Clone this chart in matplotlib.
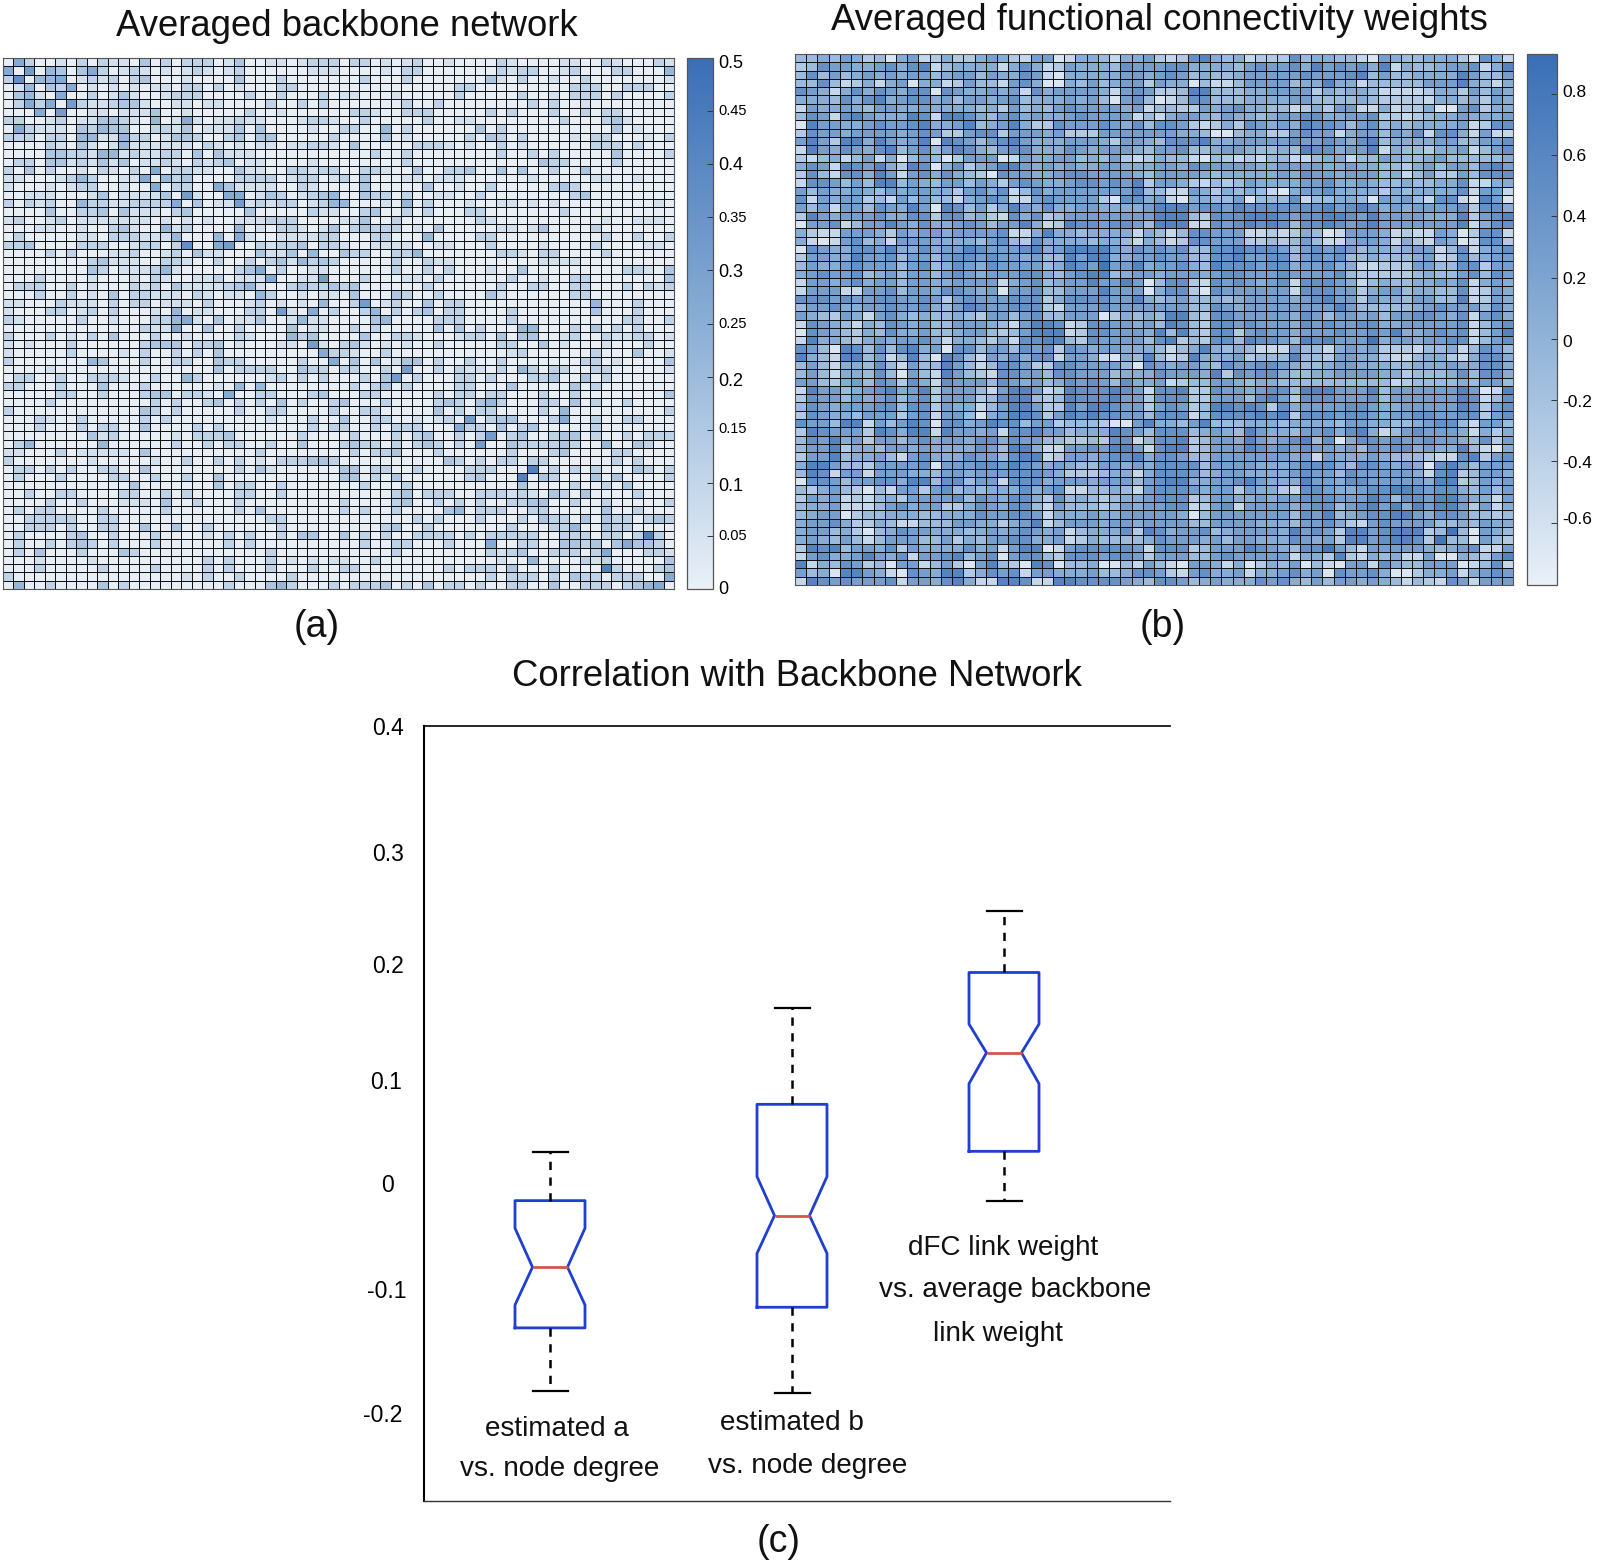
import numpy as np
import matplotlib
matplotlib.use('Agg')
import matplotlib.pyplot as plt
from matplotlib.colors import LinearSegmentedColormap
from matplotlib.transforms import ScaledTranslation

plt.rcParams['font.family'] = ['Liberation Sans', 'DejaVu Sans']

# Panel (a): one digit per cell, value = digit * 0.052
backbone_rows = [
    '05200102 02110302 02220130 01101222 02201012 00100002 10000110 02100021',
    '50604303 52012101 01210120 00000111 00001022 00000002 12200120 00220004',
    '27044501 21202300 01000030 00200000 00200020 00000031 02001002 00000001',
    '01403250 10101011 02202010 00220000 00000000 00022000 00000022 20022200',
    '03410500 20131001 22200002 00200020 11000100 00020000 02001022 20200002',
    '02525062 11233100 11011000 02002020 00000020 02000000 00202001 00000000',
    '00050600 11011130 01000002 00100000 02210022 20000020 20002002 02200000',
    '22001201 13321040 15101121 10001221 00200000 20011000 00000200 02310000',
    '05211103 24330022 13011130 30000100 22004020 00000302 00000000 00301000',
    '22202204 41142201 33200230 33000002 00003010 00002032 02000010 22000102',
    '00002103 10141111 11021010 11011221 03000002 22101002 01000000 22202000',
    '00003322 14412112 20303111 00000000 00020020 00000002 00202000 00300002',
    '02203312 13130112 10212301 10000100 00000020 00000000 00032200 00200000',
    '20302001 02102050 22110031 10022122 00221003 00223003 03002003 00000000',
    '11000124 20011504 23000022 22012201 20300011 01110000 00100000 11001000',
    '10001012 20010050 22005311 11002100 00300000 30010020 00002320 00000000',
    '00111000 13011113 06100550 13201234 00322020 01100200 00000023 00000000',
    '20212004 22112222 50301161 21220124 40001040 20001001 10101000 00000010',
    '00003002 23031110 23000003 00000211 00230020 20002200 00000200 00000000',
    '12001201 11111101 01010011 12220000 11300200 00000210 00000000 01001110',
    '00011001 00231004 12000040 10221013 02322201 03000001 10130000 20000000',
    '02000001 10222111 40004051 00111122 00022000 40000220 00000000 02002002',
    '22300002 22001220 27005600 21223022 10011110 01100020 00010000 20000110',
    '00002020 00112001 20311000 31130400 32200224 00000002 21022000 02000000',
    '00000000 23111002 21002002 02314232 00000200 21100000 00011110 00000000',
    '00000000 32011124 10000023 50200110 00000200 20200010 03000000 00022103',
    '00020000 10001021 00112011 15001160 00200011 02000000 20010022 00000003',
    '02220020 10002120 31111234 10023223 23000000 20000002 00220022 00020212',
    '00020020 10302211 10210110 42001011 03000320 02000031 00000022 00000000',
    '11000211 10202201 11020001 20101040 02601200 30220000 00000000 40002000',
    '10002201 20200010 40110002 20610502 00240202 30220000 20000000 30002000',
    '21000002 00100022 45103011 30014110 00034000 02220000 20000000 00022002',
    '00000000 00000211 50030020 00030110 02020000 03030200 04400020 30202000',
    '20002010 20300020 01000021 00042300 00300221 00012203 03300120 02112201',
    '10100020 00000233 30223010 00110610 23101010 02000002 20030100 01000200',
    '10000020 00010200 20203000 00000052 21002000 00000000 12000000 20003001',
    '20000000 43000200 22003220 00002005 03030133 02002002 00000002 20100003',
    '00001000 00000000 00003022 22003220 22002060 02021102 04202200 22000001',
    '02200200 22210020 04200000 01202020 00203602 00022020 00223003 02000000',
    '22000200 03000200 00001040 40000000 02023020 00022000 30000030 20000000',
    '00000220 02000233 02210500 22000230 00220000 02022022 00020020 00000003',
    '00002000 00000020 20023020 20302002 30002000 02320342 00022030 20020000',
    '20000000 00000320 20000020 02200002 00220000 03020220 00020400 00000002',
    '00021002 00000202 00000000 01000200 30022001 01206023 30002500 20022000',
    '00020002 02200300 00202000 00000202 20020222 00052203 02300000 20000000',
    '00000000 31200000 10222300 00002000 02000202 30020260 23002330 20020222',
    '02400000 04000000 20020220 02003000 23220202 32020600 32222320 04003200',
    '11000201 11110300 00000000 20000000 02022300 02000000 20002300 00220000',
    '20000000 10000010 02002020 10222332 00000000 00320202 20220000 00202000',
    '02202020 02200300 00000020 31000000 33022002 00002220 00802020 20003202',
    '02000200 00220020 02003000 00000000 33020300 00002300 08032000 30300002',
    '00000000 00003000 00003022 00200000 00200020 00000000 03000020 02030000',
    '00200220 00022002 02000022 00200000 00000230 22200222 12103203 00002000',
    '00002002 00011103 00200020 00000000 20000230 02020200 22330020 02000002',
    '02022000 02000002 00000020 30000000 20200200 00340222 00220000 03002000',
    '00222220 02200000 00000000 02200000 00000002 02000200 02032203 03220232',
    '00222020 02200300 30020000 00200000 00002300 20000000 20002240 03220000',
    '02000023 00200020 00010202 00203300 30202002 22202022 22200222 02202820',
    '02002023 20200020 00000202 00000000 00200220 00200050 02200332 30353320',
    '02030002 00032000 00000000 02000000 00000200 00000021 23002220 25000221',
    '00010000 10000000 00020200 02010101 10020000 00000001 00400002 12000003',
    '00020000 02000020 00020200 02000200 22000000 00202220 30002000 08200023',
    '20000000 00000000 01020020 00020000 00000000 00000020 22202032 20222005',
    '04002000 03020000 00000200 03420002 02223020 30220200 22003002 22023450',
]

# Panel (b): one digit per cell, value = -0.66 + digit * 0.185
fc_rows = [
    '3343542304 5124224542 1550144314 4521267434 1222634433 1054334442 0641',
    '2365544564 6713444414 6412544436 5556644443 5655647565 6471433455 6147',
    '3635345454 5534553544 6510444445 5456534334 5555565556 7353344447 5335',
    '3363124145 0441253315 6400435345 5254403113 5555344744 1333335557 4314',
    '6541464654 6606544545 1645555415 6522377333 4455552434 4311112442 5354',
    '4443646745 6645355456 3444545305 6301366333 4444553333 4322221443 4254',
    '1544543554 4544443425 3435655554 5133225456 4433124255 1141224005 6244',
    '3651675444 7617764356 4544565555 1314554354 4345566445 5622123445 4445',
    '0755445655 6744573457 4226555654 6366521242 6545476653 5634344445 1266',
    '2655455554 5652256625 5545222555 5555443003 4422565514 5535461664 1511',
    '5752774754 5707653567 5444555425 5436667445 5555655654 6734444553 3556',
    '1754654673 5635764356 6444654555 4355633455 4334376645 5714332445 1356',
    '2134135140 3530255501 5445534352 1243310321 2133113441 3354334533 3334',
    '4651765742 7604624577 5454544554 4455466555 5445555445 4433245355 3675',
    '2631664751 5646432065 5445665555 4355554344 4445465545 5534135225 3666',
    '1665353773 5435535425 6544566565 7255421323 5444455644 5433433446 1144',
    '5354454354 5544256461 3645555555 7331154243 4310455644 4424344446 1551',
    '6154552315 3533145651 1565555206 6451044335 0333613344 3054531661 0750',
    '5351553654 7507635247 5464455444 4577756657 6666666756 7645455556 2664',
    '2754555644 6626634216 4623555555 5577732666 7776566776 5755554447 2567',
    '0556135575 4644565355 7412766566 5377711656 7676366765 6755555557 1466',
    '4211555425 4554555561 1474434444 1431366555 1121243015 5541211540 2661',
    '4101563415 5544443563 2644443443 1431266555 2232353114 5541421540 1662',
    '0654466574 4645576555 6745777754 6565633667 6665356565 3443455136 1456',
    '2554475563 5535665655 4533757744 5565533667 5566356563 3433345126 3455',
    '3544565553 5634654655 5534765855 7455643766 6566455644 1122255336 6255',
    '4565563453 5535654555 6643567734 5545554566 5556555563 2222234335 6365',
    '1554564553 5544555514 5634557557 5036621656 5456166654 1343344546 1454',
    '1555115563 5546654505 5633555755 5046620655 5555166655 2455344336 1254',
    '6665655665 5652565556 6624666655 7434533434 5555456755 2544355337 1254',
    '3556445565 5643576556 6621555655 5555533654 5555555575 3333345655 5364',
    '5432541564 3433432553 5633555024 3437732665 5555465355 4535566546 1564',
    '1654314365 4533555431 5776126655 4537632665 6555465655 6644555556 1356',
    '0654324364 4533455323 5777126655 5473732662 5655455565 5657445656 1357',
    '1744324545 5641443241 6677326555 5367232663 7665376755 5845545566 1356',
    '6530763636 7450663553 6562654554 4431347434 3111533145 4522213341 3653',
    '7431773513 7307631546 4661554104 3731274445 2333733255 4421134421 4664',
    '3531443631 5337531366 5226655553 0654554365 5665433455 4443344454 4664',
    '3531443630 5317532166 5536655534 4465554726 5664334455 5544233346 3664',
    '5532453652 6416555365 4534656536 4451233554 3443333333 3331233334 3553',
    '1755345674 5725553157 7512766676 5166722655 4566377755 5735555557 5017',
    '2655354563 5625552367 7323766675 5266622555 3675266655 5635555557 6136',
    '3654555663 6625441357 7522757765 5256523776 7626455556 6544555557 6256',
    '2654435552 5615530457 7625767665 5366613666 6767266656 6545566556 6256',
    '6553771535 7606645766 3552333200 5744357333 4443444435 5443345663 1553',
    '2765552764 7717554516 6755344476 5366634543 7544355646 7413565554 1424',
    '3657452553 5645546646 5533223266 1366723554 7545673604 6656556554 3625',
    '3557244355 4544446537 7411556577 5167723555 7656565545 3656645447 3104',
    '2557344531 5644465536 7712554566 7466533555 5555451544 4543332116 7256',
    '4775332555 5605556657 6545433554 5466663555 5444566643 6654540675 3555',
    '3761551555 4435545556 6654222344 1466653455 4444565536 5555541672 3554',
    '0665355664 7736635516 6645554555 3567744556 7544475546 6555554772 3545',
    '3245320315 5256343444 6456113343 1566654552 5442166544 5667765664 3535',
    '2545121342 5555636546 6426343234 4566623554 4545566655 5763665775 4415',
    '3445111356 4552246546 6315333235 4556612561 5555456635 6757475775 2514',
    '3455023344 4334446556 6514445445 5555403555 5555365734 5667754665 3323',
    '4556422431 1333554424 5713555455 4555533555 5444355642 1565555334 3544',
    '4553420346 5544434545 6545134446 2764556345 5554756527 7567772383 0543',
    '4543531355 5335243556 6445124333 3465554535 5444654527 7567762833 0532',
    '2767355462 5444464515 7701566666 5166623555 7654366853 1555554345 6115',
    '1564457546 1556735605 6632666566 5255533565 5555144272 1434115004 3257',
    '7143652305 5135205732 0760334003 1531055414 0243503105 5164335550 1361',
    '5340775410 6547724656 1554445334 6652156445 1445645065 5640024451 4565',
    '1765655561 5546741177 6117766665 4366534544 4656435355 4543132165 1555',
]

backbone_ticks = [0, 0.05, 0.1, 0.15, 0.2, 0.25, 0.3, 0.35, 0.4, 0.45, 0.5]
backbone_tick_labels = ['0', '0.05', '0.1', '0.15', '0.2', '0.25', '0.3', '0.35', '0.4', '0.45', '0.5']
fc_ticks = [-0.6, -0.4, -0.2, 0, 0.2, 0.4, 0.6, 0.8]
fc_tick_labels = ['-0.6', '-0.4', '-0.2', '0', '0.2', '0.4', '0.6', '0.8']

box_names = ['estimated a', 'estimated b', 'dFC link weight']
box_whislo = [-0.180, -0.182, -0.014]
box_q1 = [-0.125, -0.107, 0.029]
box_cilo = [-0.105, -0.060, 0.088]
box_med = [-0.072, -0.027, 0.115]
box_cihi = [-0.038, 0.007, 0.140]
box_q3 = [-0.014, 0.070, 0.185]
box_whishi = [0.028, 0.154, 0.239]
box_pos = [127, 369, 581]

# the axis labels in panel (c) do not sit evenly in the picture
box_tick_pos = [-0.199, -0.0908, 0.001, 0.091, 0.192, 0.29, 0.4]
box_tick_labels = ['-0.2', '-0.1', '0', '0.1', '0.2', '0.3', '0.4']

W, H = 1600, 1564
cmap = LinearSegmentedColormap.from_list('bl', ['#e9f0f7', '#8aaed5', '#3a6eb5'])


def to_matrix(rows):
    return np.array([[int(c) for c in r.replace(' ', '')] for r in rows], dtype=float)


def px_axes(x0, y0, x1, y1):
    return fig.add_axes([x0 / W, 1 - y1 / H, (x1 - x0) / W, (y1 - y0) / H])


def px_text(x, y, s, size):
    fig.text(x / W, 1 - y / H, s, fontsize=size, ha='center', va='center', color='#111111')


def nudge(labels, dx, dy):
    # tick labels in the picture are hand placed, shift them a few pixels
    for lab, x, y in zip(labels, dx, dy):
        lab.set_transform(lab.get_transform() + ScaledTranslation(x / 100, -y / 100, fig.dpi_scale_trans))


def heatmap(box, values, vmin, vmax):
    ax = px_axes(*box)
    ax.pcolormesh(values, cmap=cmap, vmin=vmin, vmax=vmax, edgecolors='#111111', linewidth=0.5)
    ax.invert_yaxis()
    ax.set_xticks([])
    ax.set_yticks([])
    for s in ax.spines.values():
        s.set_color('#555555')
        s.set_linewidth(0.8)


def colorbar(box, vmin, vmax, ticks, labels, sizes, shift):
    ax = px_axes(*box)
    sm = plt.cm.ScalarMappable(norm=plt.Normalize(vmin, vmax), cmap=cmap)
    cb = fig.colorbar(sm, cax=ax, ticks=ticks)
    cb.ax.set_yticklabels(labels)
    cb.ax.tick_params(direction='in', length=4, width=0.7, color='#333333', pad=4)
    for lab, size in zip(cb.ax.get_yticklabels(), sizes):
        lab.set_fontsize(size)
    nudge(cb.ax.get_yticklabels(), [0] * len(shift), shift)
    cb.outline.set_edgecolor('#555555')
    cb.outline.set_linewidth(0.9)


fig = plt.figure(figsize=(W / 100, H / 100), dpi=100)

backbone = to_matrix(backbone_rows) * 0.052 + 0.006
fc = to_matrix(fc_rows) * 0.185 - 0.66

heatmap((3, 58, 674, 589), backbone, 0, 0.5)
colorbar((687, 58, 713, 589), 0, 0.5, backbone_ticks, backbone_tick_labels,
         [13, 10.5, 13, 10.5, 13, 10.5, 13, 10.5, 13, 10.5, 13],
         [-1, -1, 2, -2, 3, -1, 0, -1, -1, -2, 3])

heatmap((795, 54, 1513, 585), fc, -0.804, 0.93)
colorbar((1527, 54, 1557, 585), -0.804, 0.93, fc_ticks, fc_tick_labels, [12.5] * 8,
         [-5, 1, 1, 2, 0, 0, 0, -3])

px_text(347, 27, 'Averaged backbone network', 26.3)
px_text(1159, 21, 'Averaged functional connectivity weights', 26.3)
px_text(317, 627, '(a)', 27)
px_text(1163, 627, '(b)', 27)
px_text(797, 676, 'Correlation with Backbone Network', 26.3)
px_text(779, 1542, '(c)', 27)

# panel (c)
ax = px_axes(424, 726, 1170, 1501)
stats = []
for i in range(3):
    stats.append({'label': box_names[i], 'med': box_med[i], 'q1': box_q1[i], 'q3': box_q3[i],
                  'whislo': box_whislo[i], 'whishi': box_whishi[i],
                  'cilo': box_cilo[i], 'cihi': box_cihi[i], 'fliers': []})
ax.bxp(stats, positions=box_pos, widths=70, shownotches=True, showfliers=False,
       manage_ticks=False,
       boxprops=dict(color='#1f3fd0', linewidth=2),
       medianprops=dict(color='#d9534f', linewidth=2),
       whiskerprops=dict(color='k', linewidth=1.8, linestyle=(0, (3.3, 3))),
       capprops=dict(color='k', linewidth=1.6))
ax.set_xlim(1, 747)
ax.set_ylim(-0.276, 0.4)
ax.set_xticks([])
ax.set_yticks(box_tick_pos, box_tick_labels, fontsize=16.5, ha='center')
ax.tick_params(axis='y', length=0, pad=26)
nudge(ax.get_yticklabels(), [-5, -1, 0, -2, 0, 0, 0], [0] * 7)
ax.spines['right'].set_visible(False)
ax.spines['left'].set_linewidth(1.5)
ax.spines['top'].set_linewidth(1.2)
ax.spines['bottom'].set_linewidth(1.0)
ax.spines['bottom'].set_color('#333333')

px_text(557, 1429, 'estimated a', 20.1)
px_text(560, 1469, 'vs. node degree', 20.1)
px_text(792, 1423, 'estimated b', 20.1)
px_text(808, 1466, 'vs. node degree', 20.1)
px_text(1003, 1248, 'dFC link weight', 20.1)
px_text(1015, 1290, 'vs. average backbone', 20.1)
px_text(998, 1334, 'link weight', 20.1)

plt.savefig('out.png', dpi=100)
